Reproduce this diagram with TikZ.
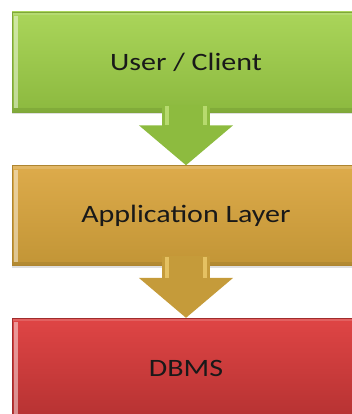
\documentclass[tikz,border=0pt]{standalone}
\usepackage{fontspec}
\setmainfont{Carlito}[FakeStretch=1.2]
\usepackage{xcolor}
\usetikzlibrary{positioning,calc,arrows.meta,shadows}
\definecolor{usertop}{HTML}{AAD55A}
\definecolor{userbot}{HTML}{8CB93F}
\definecolor{userline}{HTML}{7FA63A}
\definecolor{apptop}{HTML}{DDAB4B}
\definecolor{appbot}{HTML}{C29536}
\definecolor{appline}{HTML}{AE8530}
\definecolor{dbtop}{HTML}{DF4545}
\definecolor{dbbot}{HTML}{B63232}
\definecolor{dbline}{HTML}{A02C2C}
\definecolor{userarrow}{HTML}{8DBB3F}
\definecolor{userhl}{HTML}{C2E27A}
\definecolor{apparrow}{HTML}{C59B3A}
\definecolor{apphl}{HTML}{EDCB6C}

\tikzset{
  layerbox/.style={draw=#1line, line width=0.6pt, top color=#1top, bottom color=#1bot,
    minimum width=348pt, minimum height=100pt, inner sep=0pt,
    font=\fontsize{25}{30}\selectfont, text=black!90,
    drop shadow={opacity=0.25, shadow xshift=0pt, shadow yshift=-2pt},
    path picture={
      % bevel: light left edge, dark bottom edge
      \fill[white, opacity=0.45] ([xshift=2pt,yshift=-4pt]path picture bounding box.north west)
        rectangle ([xshift=6pt,yshift=4pt]path picture bounding box.south west);
      \fill[black, opacity=0.08] (path picture bounding box.south west)
        rectangle ([yshift=4pt]path picture bounding box.south east);
      \fill[white, opacity=0.15] (path picture bounding box.north west)
        rectangle ([yshift=-3pt]path picture bounding box.north east);
    }},
  flowarrow/.style={draw=#1arrow, line width=48pt, -{Triangle[width=92pt,length=40pt]}},
  flowhl/.style={draw=#1hl, line width=4pt, opacity=0.8}
}

\begin{document}
\begin{tikzpicture}[x=1pt, y=1pt]
  \useasboundingbox (0,0) rectangle (352,414);

  % three stacked layers
  \node[layerbox=user] (user) at (186,352) {User / Client};
  \node[layerbox=app, below=53pt of user] (app) {Application Layer};
  \node[layerbox=db, below=52pt of app] (db) {DBMS};

  % user -> application layer
  \draw[flowarrow=user] ($(user.south)+(0,7)$) -- (app.north);
  \draw[flowhl=user] ($(user.south)+(-19,6)$) -- ++(0,-19);
  \draw[flowhl=user] ($(user.south)+(19,6)$) -- ++(0,-19);

  % application layer -> DBMS
  \draw[flowarrow=app] ($(app.south)+(0,10)$) -- (db.north);
  \draw[flowhl=app] ($(app.south)+(-19,9)$) -- ++(0,-21);
  \draw[flowhl=app] ($(app.south)+(19,9)$) -- ++(0,-21);
\end{tikzpicture}
\end{document}
